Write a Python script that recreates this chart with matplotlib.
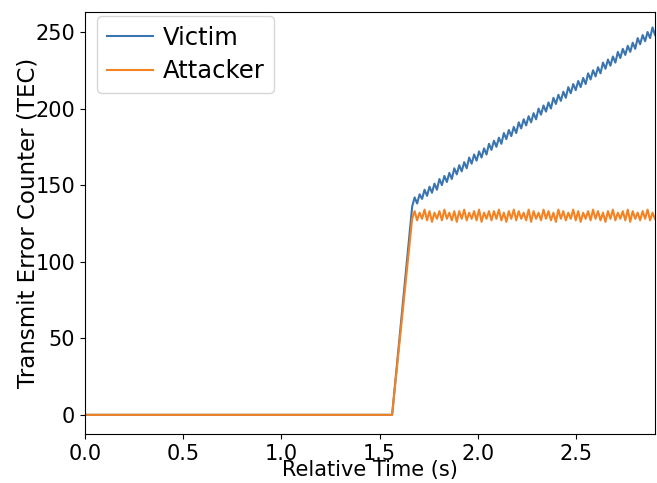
import numpy as np
import matplotlib
matplotlib.use("Agg")
import matplotlib.pyplot as plt

# idle period, then ramp up when the attack starts
idle_t = [0.0, 1.563]
idle_v = [0, 0]

# sawtooth segment after the ramp (alternating trough / peak)
osc_start = 1.665
osc_end = 2.9

victim = [136, 142, 138, 144, 141, 147, 143, 149, 145, 151,
          147, 154, 150, 156, 152, 158, 154, 161, 157, 163,
          159, 165, 161, 168, 164, 170, 166, 172, 168, 174,
          170, 177, 173, 179, 175, 181, 177, 184, 180, 186,
          182, 188, 184, 191, 187, 193, 189, 195, 191, 197,
          193, 200, 196, 202, 198, 204, 200, 207, 203, 209,
          205, 211, 207, 214, 210, 216, 212, 218, 214, 220,
          216, 223, 219, 225, 221, 227, 223, 230, 226, 232,
          228, 234, 230, 237, 233, 239, 235, 241, 237, 243,
          239, 246, 242, 248, 244, 250, 246, 253, 248]

attacker = [128, 133, 127, 132, 128, 134, 127, 133, 126, 132,
            128, 133, 127, 134, 128, 132, 127, 133, 126, 133,
            128, 134, 127, 132, 128, 133, 127, 134, 126, 132,
            128, 133, 127, 133, 128, 134, 127, 132, 126, 133,
            128, 134, 127, 133, 128, 132, 127, 134, 126, 133,
            128, 132, 127, 134, 128, 133, 127, 132, 126, 134,
            128, 133, 127, 132, 128, 134, 127, 133, 126, 132,
            128, 133, 127, 134, 128, 133, 127, 132, 126, 133,
            128, 134, 127, 132, 128, 133, 127, 134, 126, 133,
            128, 132, 127, 133, 128, 134, 127, 132, 128]

t_victim = idle_t + list(np.linspace(osc_start, osc_end, len(victim)))
v_victim = idle_v + victim
t_att = idle_t + list(np.linspace(osc_start, osc_end, len(attacker)))
v_att = idle_v + attacker

plt.rcParams['font.size'] = 15
fig = plt.figure(figsize=(6.57, 4.83), dpi=100)
ax = fig.add_axes([0.129, 0.1015, 0.868, 0.8735])
ax.plot(t_victim, v_victim, color='#3a75b0', lw=1.5, label='Victim')
ax.plot(t_att, v_att, color='#f58220', lw=1.5, label='Attacker')
ax.set_xlim(0, 2.9)
ax.set_ylim(-12.5, 263)
ax.tick_params(labelsize=15)
ax.set_xlabel('Relative Time (s)', fontsize=15, labelpad=-3)
ax.set_ylabel('Transmit Error Counter (TEC)', fontsize=16.5, labelpad=-3)
ax.legend(loc='upper left', bbox_to_anchor=(0, 1.02), fontsize=17.5,
          handlelength=1.9, handletextpad=0.4, labelspacing=0.4)
fig.savefig('out.png', dpi=100)
